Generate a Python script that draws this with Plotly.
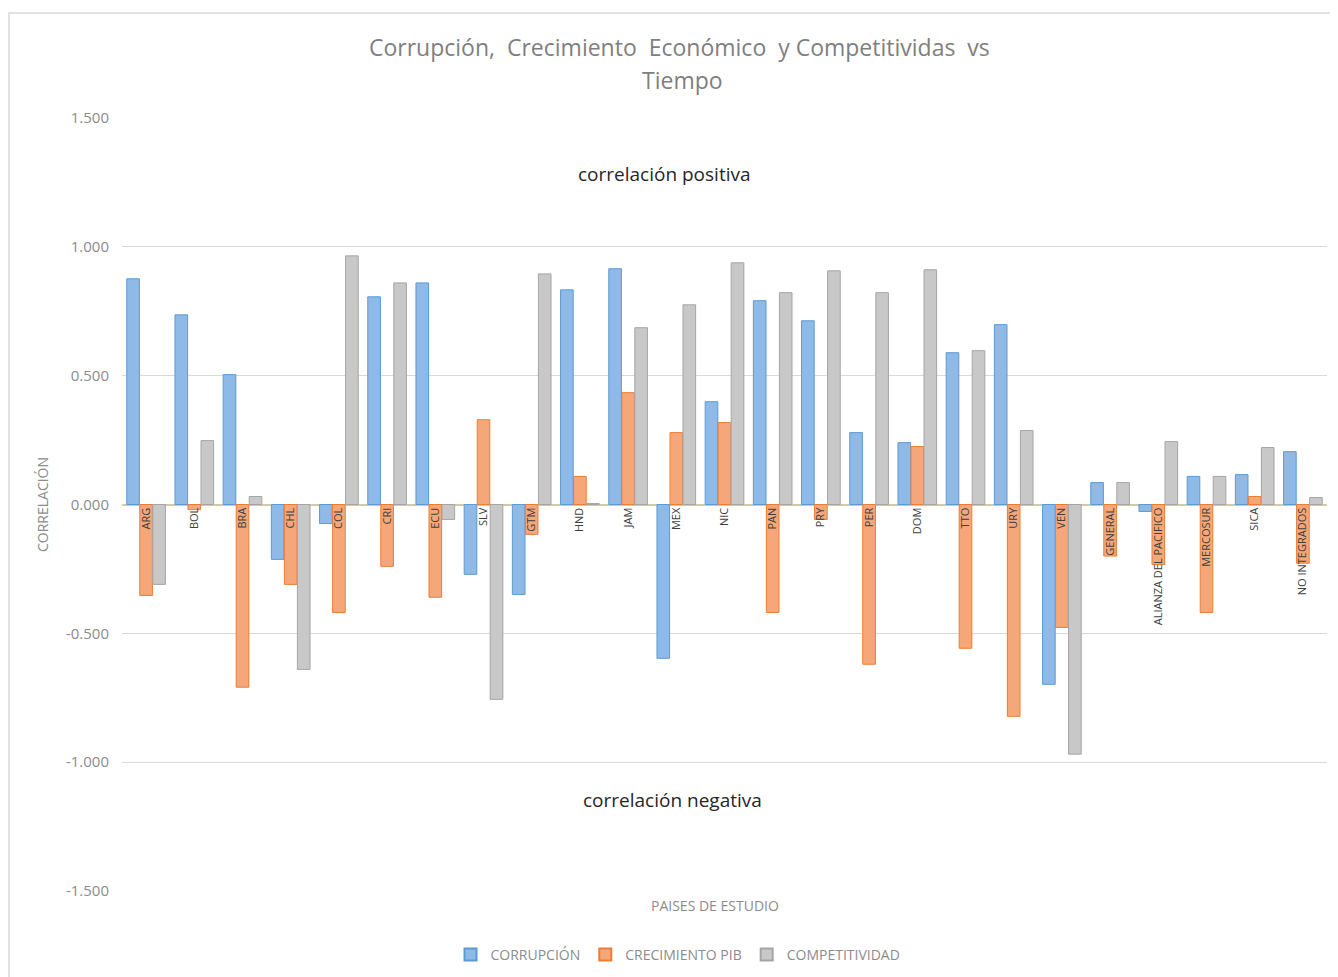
import plotly.graph_objects as go

categorias = ["ARG", "BOL", "BRA", "CHL", "COL", "CRI", "ECU", "SLV", "GTM", "HND",
              "JAM", "MEX", "NIC", "PAN", "PRY", "PER", "DOM", "TTO", "URY", "VEN",
              "GENERAL", "ALIANZA DEL PACIFICO", "MERCOSUR", "SICA", "NO INTEGRADOS"]

corrupcion = [0.876, 0.736, 0.504, -0.213, -0.074, 0.806, 0.860, -0.271, -0.349, 0.833,
              0.915, -0.597, 0.399, 0.791, 0.713, 0.279, 0.240, 0.589, 0.698, -0.698,
              0.085, -0.027, 0.109, 0.116, 0.205]

crecimiento_pib = [-0.353, -0.020, -0.709, -0.310, -0.419, -0.240, -0.360, 0.329, -0.116, 0.109,
                   0.434, 0.279, 0.318, -0.419, -0.058, -0.620, 0.225, -0.558, -0.822, -0.477,
                   -0.200, -0.233, -0.419, 0.031, -0.228]

competitividad = [-0.310, 0.248, 0.031, -0.640, 0.965, 0.860, -0.058, -0.756, 0.895, 0.004,
                  0.686, 0.775, 0.938, 0.822, 0.907, 0.822, 0.911, 0.597, 0.287, -0.969,
                  0.085, 0.244, 0.109, 0.221, 0.027]

y_ticks = [1.5, 1.0, 0.5, 0.0, -0.5, -1.0, -1.5]
y_tick_text = ["1.500", "1.000", "0.500", "0.000", "-0.500", "-1.000", "-1.500"]

series = [
    ("CORRUPCIÓN", corrupcion, "#8fb9e6", "#5b9bd5"),
    ("CRECIMIENTO PIB", crecimiento_pib, "#f6a77a", "#ed7d31"),
    ("COMPETITIVIDAD", competitividad, "#c8c8c8", "#a5a5a5"),
]

# page geometry (the page body adds an 8px offset)
OFF = 8
PL, PR, PT, PB = 122, 1327, 118, 891   # plot area in page pixels
W, H = 1338, 977


def px(xpage):
    return (xpage - PL) / (PR - PL)


def py(ypage):
    return (PB - ypage) / (PB - PT)


fig = go.Figure()
for name, vals, fill, line in series:
    fig.add_trace(go.Bar(
        x=categorias, y=vals, name=name,
        marker=dict(color=fill, line=dict(color=line, width=1)),
    ))

FONT = "Open Sans"
GRAY = "#8c8c8c"

fig.update_layout(
    width=W, height=H,
    paper_bgcolor="white", plot_bgcolor="white",
    margin=dict(l=PL - OFF, r=W - (PR - OFF), t=PT - OFF, b=H - (PB - OFF)),
    barmode="group", bargap=0.19, bargroupgap=0.03,
    font=dict(family=FONT, color=GRAY),
    showlegend=True,
    legend=dict(orientation="h", x=px(678), y=py(955), xanchor="center", yanchor="middle",
                font=dict(size=14, color=GRAY, family=FONT),
                itemwidth=30, itemsizing="constant", tracegroupgap=0),
    xaxis=dict(
        anchor="free", position=0.5,
        showline=False, showgrid=False, ticks="",
        tickangle=-90, tickfont=dict(size=11, color="#404040", family=FONT),
        zeroline=False,
    ),
    yaxis=dict(
        range=[-1.5, 1.5], domain=[0, 1],
        tickvals=y_ticks, ticktext=y_tick_text,
        tickfont=dict(size=15, color=GRAY, family=FONT),
        showgrid=True, gridcolor="#d9d9d9", gridwidth=1,
        zeroline=True, zerolinecolor="#d6c8a4", zerolinewidth=1.5,
        showline=False, ticks="", ticklabelstandoff=12,
        title=dict(text="CORRELACIÓN", font=dict(size=14, color=GRAY, family=FONT),
                   standoff=14),
    ),
    annotations=[
        dict(text="Corrupción,  Crecimiento  Económico  y Competitividas  vs", xref="paper", yref="paper",
             x=px(679), y=py(47), showarrow=False,
             xanchor="center", yanchor="middle",
             font=dict(size=23, color="#7f7f7f", family=FONT)),
        dict(text="Tiempo", xref="paper", yref="paper",
             x=px(682), y=py(80), showarrow=False,
             xanchor="center", yanchor="middle",
             font=dict(size=23, color="#7f7f7f", family=FONT)),
        dict(text="correlación positiva", xref="paper", yref="paper",
             x=px(664), y=py(174), showarrow=False,
             xanchor="center", yanchor="middle",
             font=dict(size=19, color="#262626", family=FONT)),
        dict(text="correlación negativa", xref="paper", yref="paper",
             x=px(672), y=py(800), showarrow=False,
             xanchor="center", yanchor="middle",
             font=dict(size=19, color="#262626", family=FONT)),
        dict(text="PAISES DE ESTUDIO", xref="paper", yref="paper",
             x=px(715), y=py(905), showarrow=False,
             xanchor="center", yanchor="middle",
             font=dict(size=14, color=GRAY, family=FONT)),
    ],
    shapes=[
        dict(type="rect", xref="paper", yref="paper",
             x0=px(9), y0=py(1000), x1=px(1360), y1=py(13),
             line=dict(color="#d9d9d9", width=1.5), fillcolor="rgba(0,0,0,0)", layer="below"),
    ],
)

fig.write_html("out.html")
